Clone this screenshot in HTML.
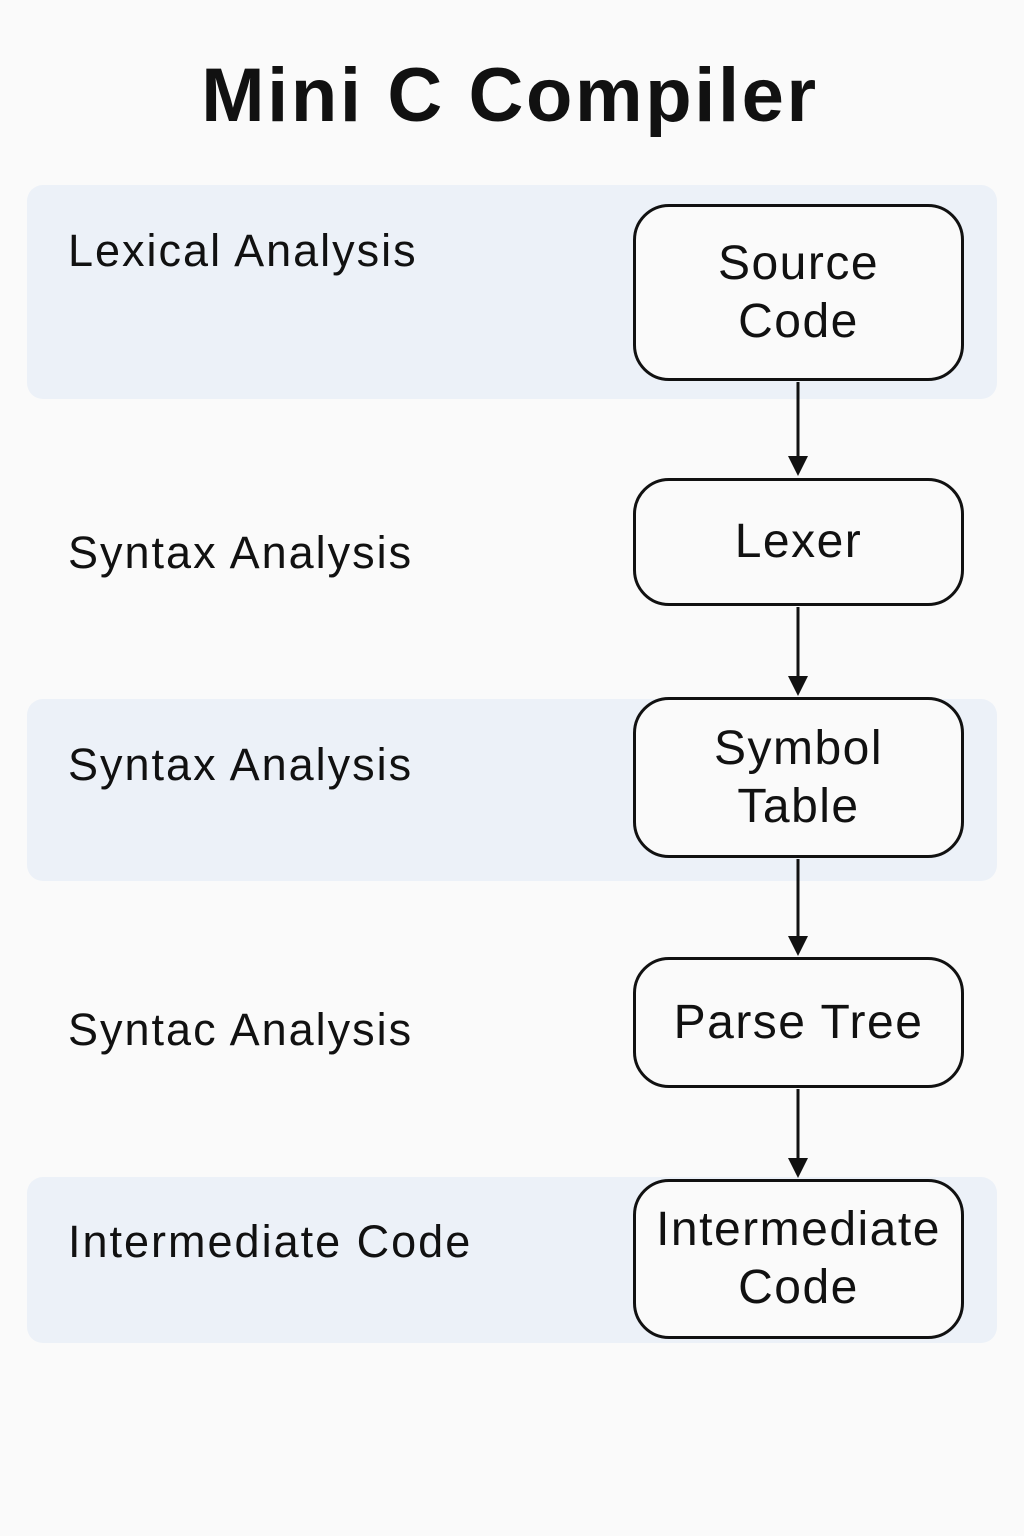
<!DOCTYPE html>
<html><head><style>
body{margin:0;width:1024px;height:1536px;background:#fafafa;position:relative;font-family:"Liberation Sans","DejaVu Sans",sans-serif;overflow:hidden}
.t{position:absolute;left:0;width:1020px;top:52px;text-align:center;font-size:76px;font-weight:bold;color:#111;letter-spacing:2.6px}
.band{position:absolute;left:27px;width:970px;background:#ecf1f8;border-radius:16px}
.lab{position:absolute;left:68px;font-size:45px;color:#111;line-height:1;letter-spacing:2px}
.box{position:absolute;left:633px;width:325px;border:3.5px solid #111;border-radius:36px;background:#fafafa;display:flex;align-items:center;justify-content:center;text-align:center;font-size:48px;line-height:1.2;color:#111;letter-spacing:1.5px}
</style></head><body>
<div class="t">Mini C Compiler</div>
<div class="band" style="top:185px;height:214px"></div>
<div class="band" style="top:699px;height:182px"></div>
<div class="band" style="top:1177px;height:166px"></div>
<div class="lab" style="top:228px">Lexical Analysis</div>
<div class="lab" style="top:530px">Syntax Analysis</div>
<div class="lab" style="top:742px">Syntax Analysis</div>
<div class="lab" style="top:1007px">Syntac Analysis</div>
<div class="lab" style="top:1219px">Intermediate Code</div>
<svg style="position:absolute;left:0;top:0" width="1024" height="1536">
<g stroke="#111" stroke-width="3"><line x1="798" y1="382" x2="798" y2="462"/><line x1="798" y1="607" x2="798" y2="682"/><line x1="798" y1="859" x2="798" y2="942"/><line x1="798" y1="1089" x2="798" y2="1164"/></g>
<g fill="#111"><path d="M788 456h20l-10 20z"/><path d="M788 676h20l-10 20z"/><path d="M788 936h20l-10 20z"/><path d="M788 1158h20l-10 20z"/></g>
</svg>
<div class="box" style="top:204px;height:171px">Source<br>Code</div>
<div class="box" style="top:478px;height:122px">Lexer</div>
<div class="box" style="top:697px;height:155px">Symbol<br>Table</div>
<div class="box" style="top:957px;height:125px">Parse Tree</div>
<div class="box" style="top:1179px;height:154px">Intermediate<br>Code</div>
</body></html>
